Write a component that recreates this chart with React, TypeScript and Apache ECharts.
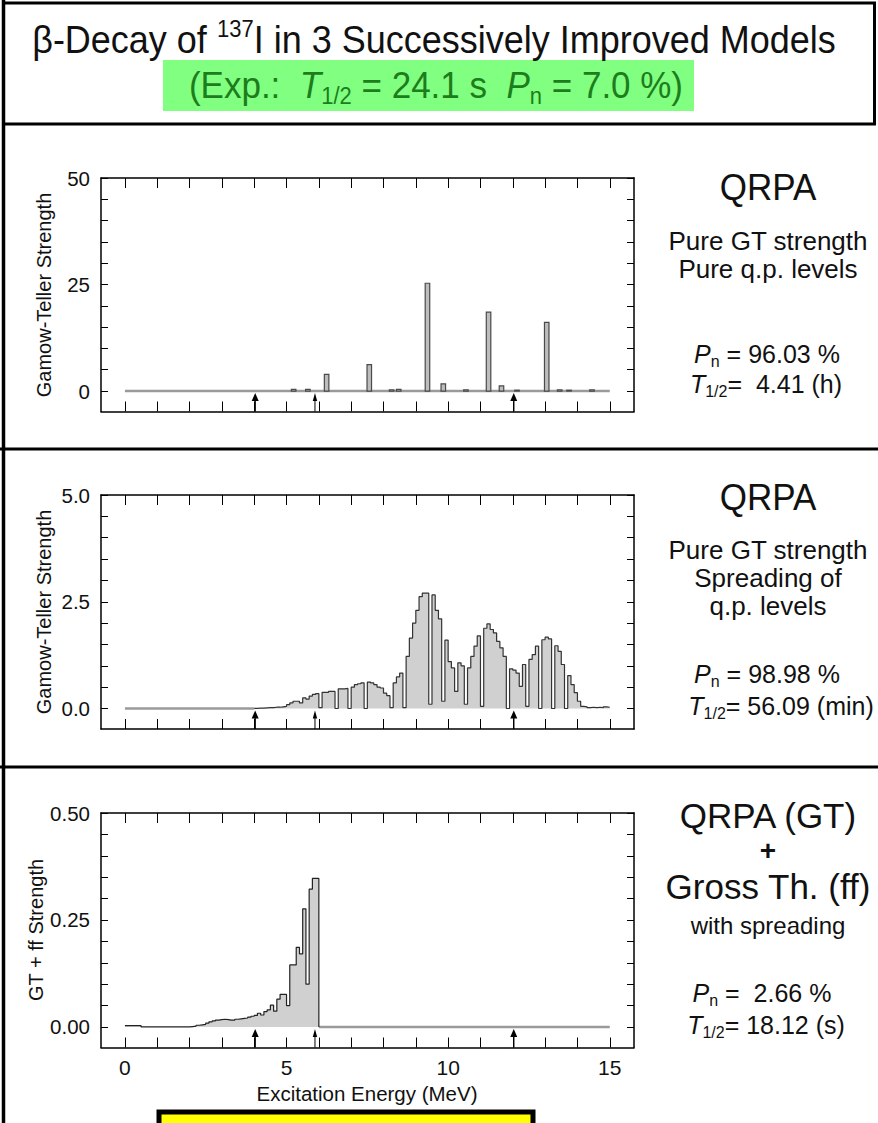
import React, { useEffect, useRef } from 'react';
import * as echarts from 'echarts';

const W = 878;
const H = 1123;
const FONT = '"Liberation Sans", Arial, Helvetica, sans-serif';

// ---------- Data ----------
// Panel 1: pure quasi-particle levels (excitation energy in MeV, GT strength)
const qpEnergies = [5.22, 5.66, 6.24, 7.56, 8.25, 8.47, 9.36, 9.85, 10.55, 11.25, 11.65, 12.13, 13.05, 13.45, 13.74, 14.45];
const qpStrengths = [0.4, 0.4, 3.9, 6.2, 0.3, 0.4, 25.3, 1.7, 0.3, 18.5, 1.2, 0.2, 16.1, 0.3, 0.2, 0.3];

// Panel 2: spread GT strength, 0.1 MeV bins starting at 4.0 MeV
const spreadStart = 4.0;
const binWidth = 0.1;
const spreadGT = [
  0.005, 0.01, 0.01, 0.015, 0.02, 0.02, 0.03, 0.03, 0.04, 0.05,
  0.09, 0.13, 0.17, 0.17, 0.13, 0.25, 0.22, 0.29, 0.33, 0.35,
  0.02, 0.38, 0.38, 0.40, 0.40, 0.0, 0.46, 0.46, 0.47, 0.0,
  0.50, 0.56, 0.58, 0.60, 0.0, 0.62, 0.60, 0.56, 0.50, 0.48,
  0.36, 0.30, 0.02, 0.60, 0.74, 0.83, 0.02, 1.22, 1.65, 2.0,
  2.3, 2.62, 2.7, 2.7, 0.1, 2.66, 2.3, 2.1, 0.17, 1.6,
  1.1, 0.95, 0.4, 1.07, 1.0, 0.1, 0.95, 1.22, 1.46, 1.7,
  0.05, 1.88, 1.98, 1.85, 1.77, 1.57, 1.42, 1.22, 0.0, 0.93,
  0.9, 0.83, 0.52, 1.03, 0.05, 1.15, 1.26, 1.46, 0.0, 1.61,
  1.67, 1.63, 0.0, 1.47, 1.34, 1.03, 0.0, 0.77, 0.56, 0.37,
  0.17, 0.05, 0.04, 0.02, 0.03, 0.02, 0.03, 0.02, 0.04, 0.03,
];
const spreadEnd = 15.0;

// Panel 3: GT + first-forbidden strength, 0.1 MeV bins starting at 0 MeV
const ffStart = 0.0;
const gtff = [
  0.003, 0.003, 0.003, 0.003, 0.003,
  0, 0, 0, 0, 0, 0, 0, 0, 0, 0, 0, 0, 0, 0, 0,
  0.001, 0.002, 0.004, 0.005, 0.006, 0.009, 0.012, 0.014, 0.016, 0.017,
  0.018, 0.017, 0.016, 0.016, 0.018, 0.019, 0.02, 0.021, 0.023, 0.025,
  0.027, 0.032, 0.028, 0.036, 0.04, 0.051, 0.037, 0.065, 0.076, 0.076,
  0.05, 0.145, 0.145, 0.186, 0.171, 0.276, 0.10, 0.322, 0.347, 0.347,
];
const ffEnd = 6.0;

// Arrows (separation / Q-value markers), MeV
const arrowEnergies = [4.03, 5.88, 12.03];

// Axis ticks
const xTickValues = [0, 1, 2, 3, 4, 5, 6, 7, 8, 9, 10, 11, 12, 13, 14, 15];
const xLabelValues = [0, 5, 10, 15];
const y1Ticks = [0, 5, 10, 15, 20, 25, 30, 35, 40, 45, 50];
const y1Labels = [0, 25, 50];
const y2Ticks = [0, 0.5, 1, 1.5, 2, 2.5, 3, 3.5, 4, 4.5, 5];
const y2Labels = [0, 2.5, 5];
const y3Ticks = [0, 0.05, 0.1, 0.15, 0.2, 0.25, 0.3, 0.35, 0.4, 0.45, 0.5];
const y3Labels = [0, 0.25, 0.5];

const XMIN = -0.74;
const XMAX = 15.75;
const yMins = [-4.8, -0.48, -0.048];
const yMaxs = [50, 5, 0.5];

const grids = [
  { left: 101, top: 178, width: 533, height: 233.5 },
  { left: 101, top: 495, width: 533, height: 234 },
  { left: 101, top: 813, width: 533, height: 234.5 },
];

function rich(size: number, color: string) {
  const lh = Math.round(size * 1.2);
  const s = Math.round(size * 0.62);
  return {
    n: { fontSize: size, fontFamily: FONT, fill: color, lineHeight: lh },
    i: { fontSize: size, fontFamily: FONT, fill: color, fontStyle: 'italic', lineHeight: lh },
    sub: { fontSize: s, fontFamily: FONT, fill: color, lineHeight: s, verticalAlign: 'bottom' },
    sup: { fontSize: s, fontFamily: FONT, fill: color, lineHeight: s, verticalAlign: 'top' },
  };
}

function txt(text: string, x: number, y: number, size: number, opts: any = {}) {
  const color = opts.color || '#111';
  return {
    type: 'text',
    x,
    y,
    rotation: opts.rotation || 0,
    scaleY: opts.scaleY || 1,
    z: 10,
    style: {
      text,
      fontSize: size,
      fontFamily: FONT,
      fontWeight: opts.bold ? 'bold' : 'normal',
      fill: color,
      align: opts.align || 'center',
      verticalAlign: 'middle',
      rich: rich(size, color),
    },
  };
}

function histPoints(start: number, values: number[], endX: number, endY: number) {
  const pts: number[][] = values.map((v, i) => [+(start + i * binWidth).toFixed(2), v]);
  pts.push([endX, endY]);
  return pts;
}

export default function App() {
  const ref = useRef<HTMLDivElement>(null);

  useEffect(() => {
    document.body.style.margin = '0';
    const chart = echarts.init(ref.current!, null, { renderer: 'svg', width: W, height: H });

    const xAxes: any[] = [];
    const yAxes: any[] = [];
    const yTickSets = [y1Ticks, y2Ticks, y3Ticks];
    const yLabelSets = [y1Labels, y2Labels, y3Labels];
    const yFmt = [(v: number) => String(v), (v: number) => v.toFixed(1), (v: number) => v.toFixed(2)];

    for (let g = 0; g < 3; g++) {
      const common = {
        type: 'value',
        gridIndex: g,
        min: XMIN,
        max: XMAX,
        splitLine: { show: false },
        axisLine: { show: true, onZero: false, lineStyle: { color: '#000', width: 1.5 } },
        axisTick: { show: true, inside: true, length: 10, customValues: xTickValues, lineStyle: { color: '#000', width: 1 } },
      };
      xAxes.push({
        ...common,
        position: 'bottom',
        axisLabel: {
          show: g === 2,
          customValues: xLabelValues,
          fontSize: 21,
          fontFamily: FONT,
          color: '#111',
          margin: 9,
        },
      });
      xAxes.push({ ...common, position: 'top', axisLabel: { show: false } });

      const ycommon = {
        type: 'value',
        gridIndex: g,
        min: yMins[g],
        max: yMaxs[g],
        splitLine: { show: false },
        axisLine: { show: true, onZero: false, lineStyle: { color: '#000', width: 1.5 } },
        axisTick: { show: true, inside: true, length: 7, customValues: yTickSets[g], lineStyle: { color: '#000', width: 1 } },
      };
      yAxes.push({
        ...ycommon,
        position: 'left',
        axisLabel: {
          show: true,
          customValues: yLabelSets[g],
          formatter: yFmt[g],
          fontSize: 20.5,
          fontFamily: FONT,
          color: '#111',
          margin: 11,
        },
      });
      yAxes.push({ ...ycommon, position: 'right', axisLabel: { show: false } });
    }

    const baseline = (g: number, from: number, to: number) => ({
      type: 'line',
      xAxisIndex: g * 2,
      yAxisIndex: g * 2,
      data: [[from, 0], [to, 0]],
      symbol: 'none',
      lineStyle: { color: '#9a9a9a', width: 2.5 },
      z: 2,
    });

    const arrows = (g: number) => ({
      type: 'custom',
      xAxisIndex: g * 2,
      yAxisIndex: g * 2,
      data: arrowEnergies.map((e) => [e]),
      z: 5,
      renderItem: (params: any, api: any) => {
        const e = api.value(0);
        const b = api.coord([e, yMins[g]]);
        const t = api.coord([e, 0]);
        const thin = params.dataIndex === 1;
        const head = 8;
        const hw = thin ? 2.2 : 3.5;
        const tipY = t[1] + 2;
        return {
          type: 'group',
          children: [
            { type: 'line', shape: { x1: b[0], y1: b[1], x2: t[0], y2: tipY + head - 1 }, style: { stroke: '#000', lineWidth: thin ? 1 : 1.4 } },
            { type: 'polygon', shape: { points: [[t[0], tipY], [t[0] - hw, tipY + head], [t[0] + hw, tipY + head]] }, style: { fill: '#000' } },
          ],
        };
      },
    });

    const spikeHalf = 0.07;

    const series: any[] = [
      baseline(0, 0, 15),
      {
        type: 'custom',
        xAxisIndex: 0,
        yAxisIndex: 0,
        data: qpEnergies.map((e, i) => [e, qpStrengths[i]]),
        z: 3,
        renderItem: (params: any, api: any) => {
          const e = api.value(0);
          const h = api.value(1);
          const p0 = api.coord([e - spikeHalf, h]);
          const p1 = api.coord([e + spikeHalf, 0]);
          return {
            type: 'rect',
            shape: { x: p0[0], y: p0[1], width: p1[0] - p0[0], height: p1[1] - p0[1] },
            style: { fill: '#bdbdbd', stroke: '#4a4a4a', lineWidth: 1.2 },
          };
        },
      },
      arrows(0),

      baseline(1, 0, spreadStart),
      {
        type: 'line',
        xAxisIndex: 2,
        yAxisIndex: 2,
        step: 'end',
        symbol: 'none',
        data: histPoints(spreadStart, spreadGT, spreadEnd, spreadGT[spreadGT.length - 1]),
        lineStyle: { color: '#333', width: 1.2 },
        areaStyle: { color: '#d0d0d0', opacity: 1 },
        z: 3,
      },
      arrows(1),

      {
        type: 'line',
        xAxisIndex: 4,
        yAxisIndex: 4,
        step: 'end',
        symbol: 'none',
        data: histPoints(ffStart, gtff, ffEnd, 0),
        lineStyle: { color: '#222', width: 1.2 },
        areaStyle: { color: '#d0d0d0', opacity: 1 },
        z: 3,
      },
      baseline(2, ffEnd, 15),
      arrows(2),
    ];

    const sy = 1.06;
    const graphics: any[] = [
      // frame
      { type: 'rect', shape: { x: 3.5, y: 3, width: 871, height: 121 }, style: { fill: 'none', stroke: '#000', lineWidth: 3 }, z: 1 },
      { type: 'line', shape: { x1: 3.5, y1: 0, x2: 3.5, y2: H }, style: { stroke: '#000', lineWidth: 3.5 }, z: 1 },
      { type: 'line', shape: { x1: 0, y1: 449, x2: W, y2: 449 }, style: { stroke: '#000', lineWidth: 3 }, z: 1 },
      { type: 'line', shape: { x1: 0, y1: 767, x2: W, y2: 767 }, style: { stroke: '#000', lineWidth: 3 }, z: 1 },
      // green box
      { type: 'rect', shape: { x: 163, y: 60, width: 531, height: 51 }, style: { fill: '#80ff80' }, z: 1 },
      // yellow box
      { type: 'rect', shape: { x: 159, y: 1112, width: 374, height: 30 }, style: { fill: '#ffff00', stroke: '#000', lineWidth: 5 }, z: 1 },

      txt('{n|β-Decay of }{sup|137}{n|I in 3 Successively Improved Models}', 434, 40, 36, { scaleY: sy }),
      txt('{n|(Exp.:  }{i|T}{sub|1/2}{n| = 24.1 s  }{i|P}{sub|n}{n| = 7.0 %)}', 436, 85, 35, { color: '#1d7d1d', scaleY: sy }),

      // axis titles
      txt('Gamow-Teller Strength', 44, 295, 20, { rotation: Math.PI / 2 }),
      txt('Gamow-Teller Strength', 44, 612, 20, { rotation: Math.PI / 2 }),
      txt('GT + ff Strength', 36, 930, 20, { rotation: Math.PI / 2 }),
      txt('Excitation Energy (MeV)', 367, 1093, 20.5),

      // panel 1 notes
      txt('QRPA', 768, 187, 35, { scaleY: sy }),
      txt('Pure GT strength', 768, 241, 26),
      txt('Pure q.p. levels', 768, 269, 26),
      txt('{i|P}{sub|n}{n| = 96.03 %}', 767, 354, 25),
      txt('{i|T}{sub|1/2}{n|=  4.41 (h)}', 766, 384, 25),

      // panel 2 notes
      txt('QRPA', 768, 497, 35, { scaleY: sy }),
      txt('Pure GT strength', 768, 550, 26),
      txt('Spreading of', 768, 578, 26),
      txt('q.p. levels', 768, 606, 26),
      txt('{i|P}{sub|n}{n| = 98.98 %}', 767, 674, 25),
      txt('{i|T}{sub|1/2}{n|= 56.09 (min)}', 781, 706, 25),

      // panel 3 notes
      txt('QRPA (GT)', 768, 815, 35),
      txt('+', 768, 850, 28, { bold: true }),
      txt('Gross Th. (ff)', 768, 886, 35),
      txt('with spreading', 768, 925, 24),
      txt('{i|P}{sub|n}{n| =  2.66 %}', 762, 993, 25),
      txt('{i|T}{sub|1/2}{n|= 18.12 (s)}', 766, 1025, 25),
    ];

    chart.setOption({
      animation: false,
      backgroundColor: '#ffffff',
      grid: grids,
      xAxis: xAxes,
      yAxis: yAxes,
      series,
      graphic: graphics,
    });

    return () => chart.dispose();
  }, []);

  return <div ref={ref} style={{ width: W, height: H }} />;
}
